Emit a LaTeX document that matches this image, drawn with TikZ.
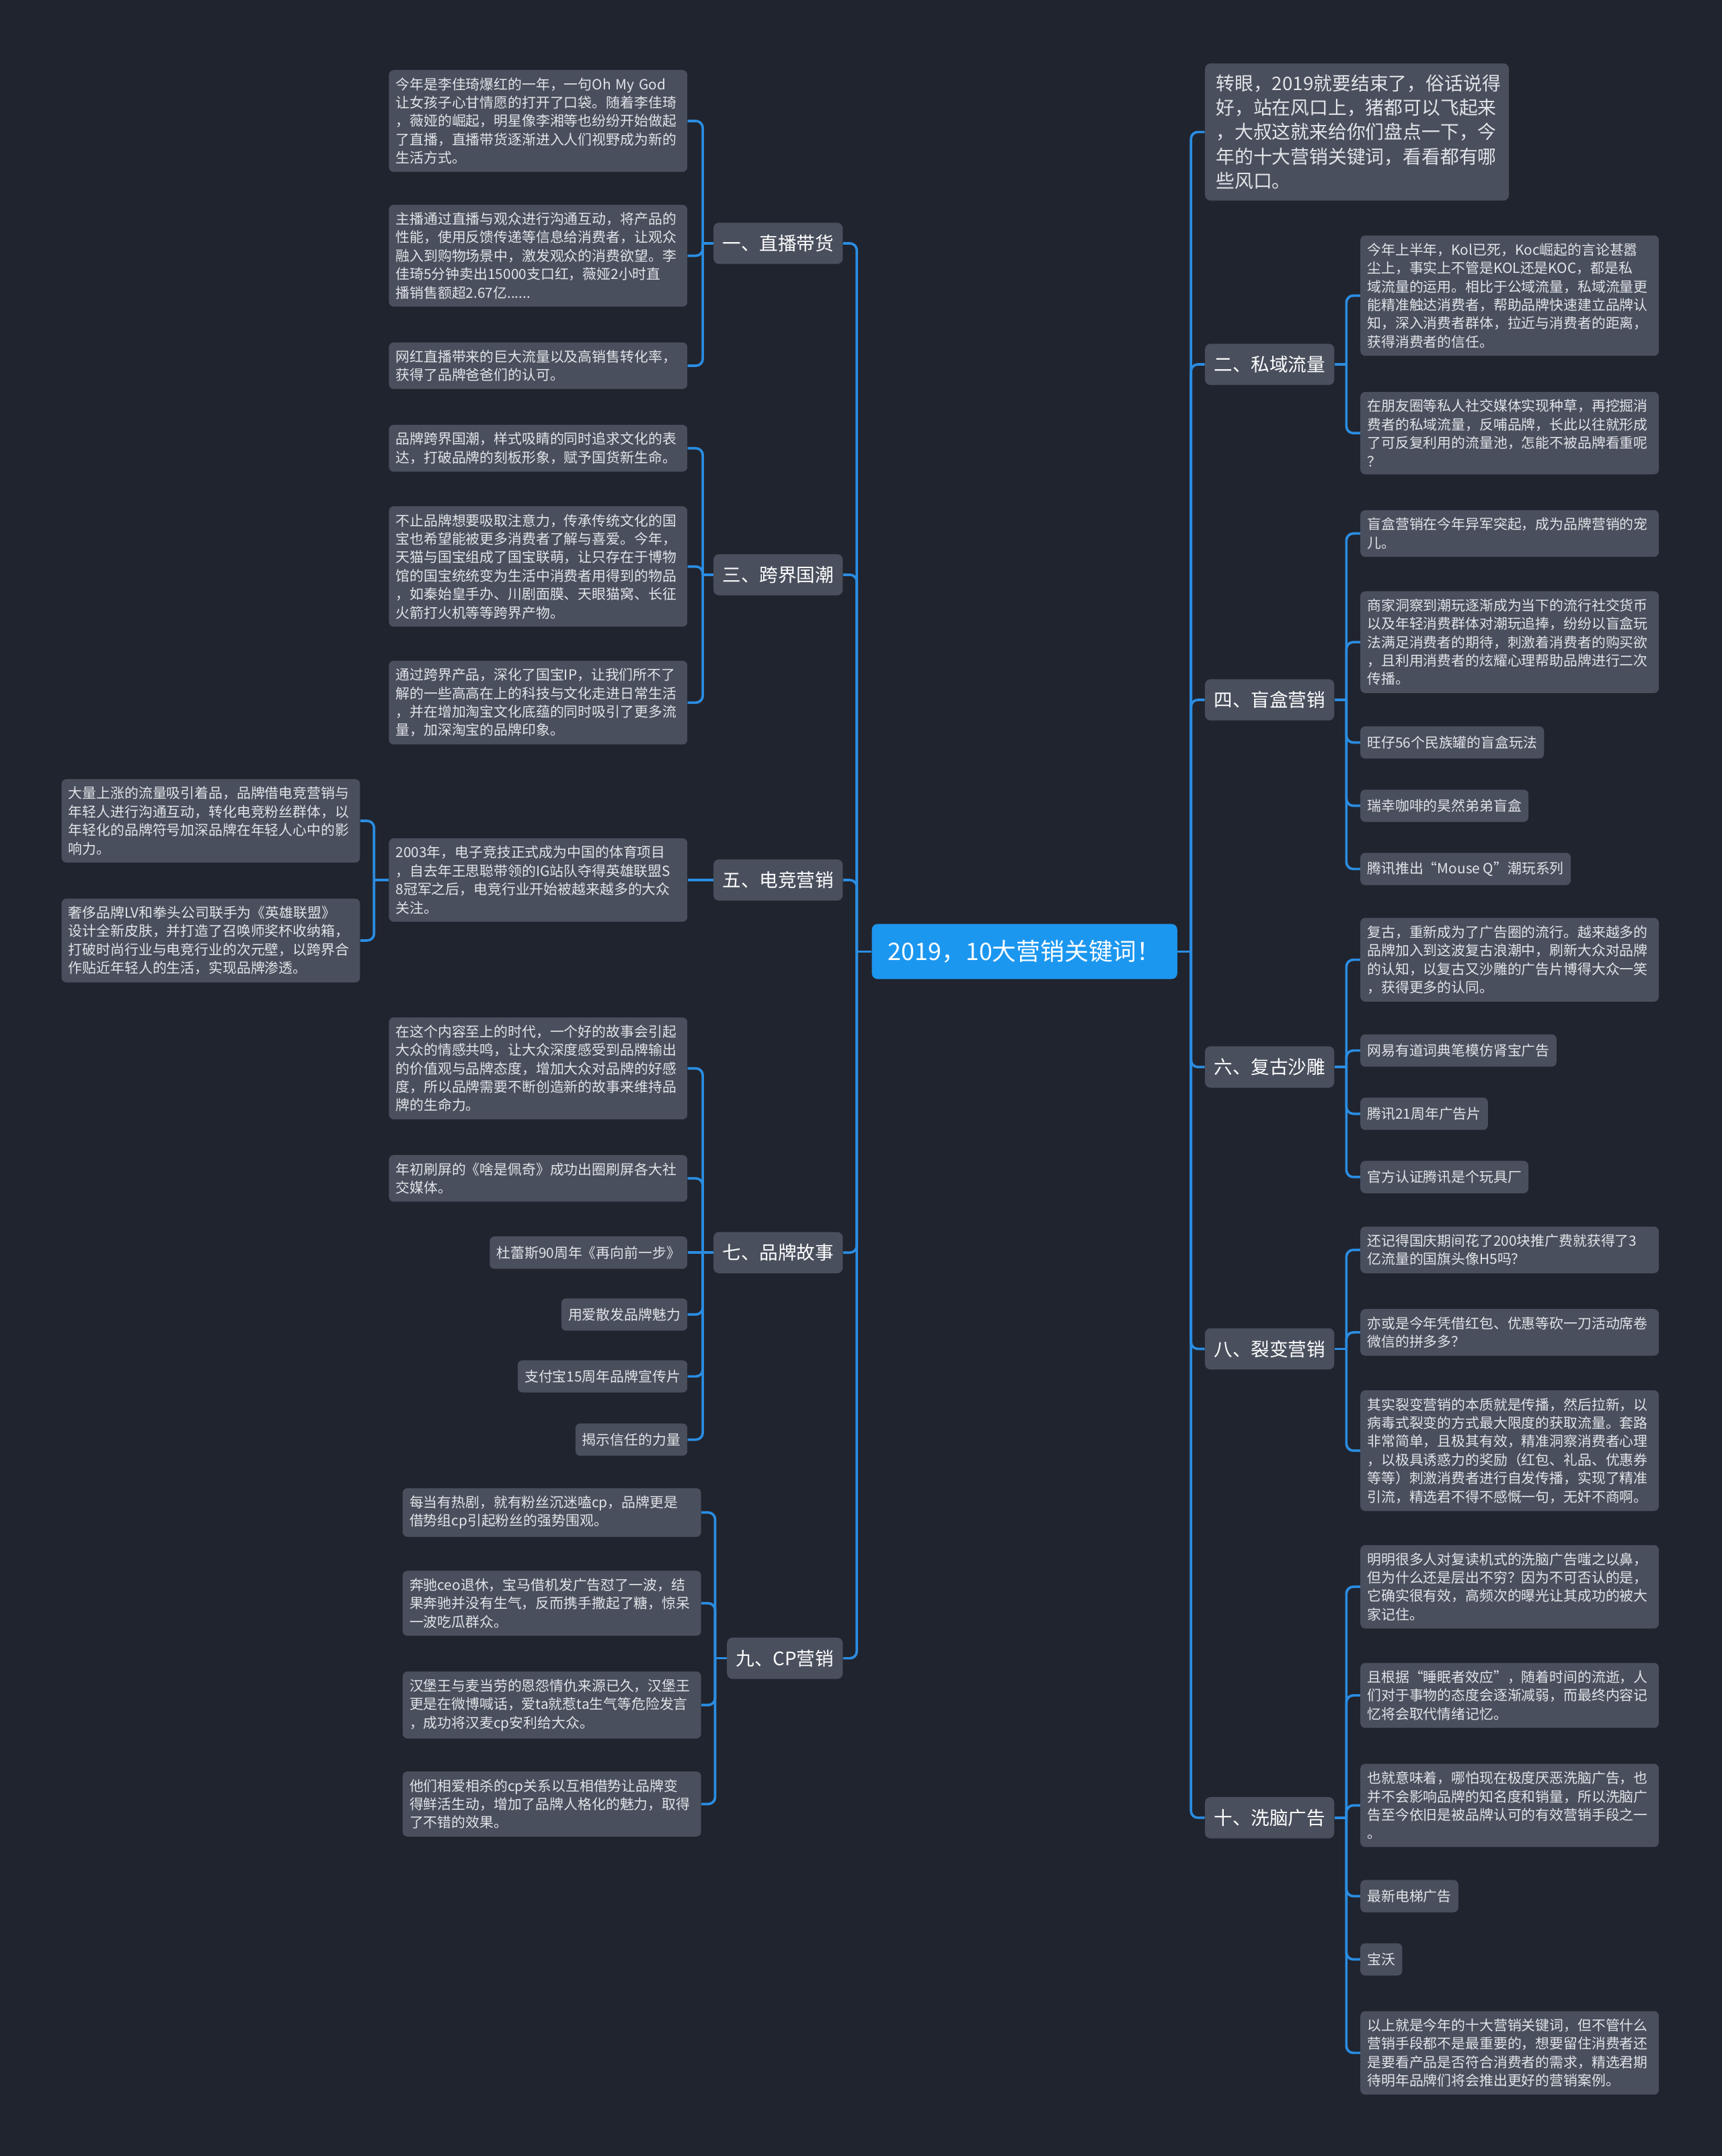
\documentclass[tikz,border=0pt]{standalone}
\usepackage{fontspec}
\setmainfont{Noto Sans CJK SC}
\definecolor{bgc}{RGB}{32,36,47}
\definecolor{boxc}{RGB}{73,79,93}
\definecolor{linec}{RGB}{43,141,226}
\definecolor{rootc}{RGB}{28,151,240}
\definecolor{txtc}{RGB}{226,228,232}
\tikzset{
  conn/.style={draw=linec, line width=1.8pt, rounded corners=5pt},
  det/.style={fill=boxc, rounded corners=3.5pt, text=txtc, font=\fontsize{10.2}{13.4}\selectfont, inner xsep=5pt, inner ysep=5.5pt, minimum height=23.5pt, align=left},
  detw/.style={det, text width=207pt},
  topic/.style={fill=boxc, rounded corners=4pt, text=white, font=\fontsize{13.5}{16}\selectfont, inner xsep=6.5pt, inner ysep=4pt, minimum height=30pt},
  rootn/.style={fill=rootc, rounded corners=4pt, text=white, font=\fontsize{17.5}{20}\selectfont, minimum width=222pt, minimum height=40pt},
  intro/.style={fill=boxc, rounded corners=4pt, text=txtc, font=\fontsize{13.6}{17.8}\selectfont, inner xsep=8pt, inner ysep=8pt, text width=205pt, align=left}
}
\begin{document}
\begin{tikzpicture}[x=1pt,y=-1pt]
\fill[bgc] (0,0) rectangle (1252,1568);
\useasboundingbox (0,0) rectangle (1252,1568);
% bus coordinates
\coordinate (bL) at (623,0);
\coordinate (bR) at (866,0);
\coordinate (bl1) at (511,0);
\coordinate (bl5) at (272,0);
\coordinate (bl9) at (520,0);
\coordinate (br) at (979,0);
% root
\node[rootn] (root) at (745,692) {2019，10大营销关键词！};
% left topics
\node[topic, anchor=east] (t1) at (613,177) {一、直播带货};
\node[topic, anchor=east] (t3) at (613,418) {三、跨界国潮};
\node[topic, anchor=east] (t5) at (613,640) {五、电竞营销};
\node[topic, anchor=east] (t7) at (613,911) {七、品牌故事};
\node[topic, anchor=east] (t9) at (613,1206) {九、CP营销};
% right topics
\node[intro, anchor=west] (ti) at (876,96) {转眼，2019就要结束了，俗话说得\\好，站在风口上，猪都可以飞起来\\，大叔这就来给你们盘点一下，今\\年的十大营销关键词，看看都有哪\\些风口。};
\node[topic, anchor=west] (t2) at (876,265) {二、私域流量};
\node[topic, anchor=west] (t4) at (876,509) {四、盲盒营销};
\node[topic, anchor=west] (t6) at (876,776) {六、复古沙雕};
\node[topic, anchor=west] (t8) at (876,981) {八、裂变营销};
\node[topic, anchor=west] (t10) at (876,1322) {十、洗脑广告};
% group 1
\node[detw, anchor=east] (a1) at (500,88) {今年是李佳琦爆红的一年，一句Oh My God\\让女孩子心甘情愿的打开了口袋。随着李佳琦\\，薇娅的崛起，明星像李湘等也纷纷开始做起\\了直播，直播带货逐渐进入人们视野成为新的\\生活方式。};
\node[detw, anchor=east] (a2) at (500,186) {主播通过直播与观众进行沟通互动，将产品的\\性能，使用反馈传递等信息给消费者，让观众\\融入到购物场景中，激发观众的消费欲望。李\\佳琦5分钟卖出15000支口红，薇娅2小时直\\播销售额超2.67亿......};
\node[detw, anchor=east] (a3) at (500,266) {网红直播带来的巨大流量以及高销售转化率，\\获得了品牌爸爸们的认可。};
% group 3
\node[detw, anchor=east] (c1) at (500,326) {品牌跨界国潮，样式吸睛的同时追求文化的表\\达，打破品牌的刻板形象，赋予国货新生命。};
\node[detw, anchor=east] (c2) at (500,412) {不止品牌想要吸取注意力，传承传统文化的国\\宝也希望能被更多消费者了解与喜爱。今年，\\天猫与国宝组成了国宝联萌，让只存在于博物\\馆的国宝统统变为生活中消费者用得到的物品\\，如秦始皇手办、川剧面膜、天眼猫窝、长征\\火箭打火机等等跨界产物。};
\node[detw, anchor=east] (c3) at (500,511) {通过跨界产品，深化了国宝IP，让我们所不了\\解的一些高高在上的科技与文化走进日常生活\\，并在增加淘宝文化底蕴的同时吸引了更多流\\量，加深淘宝的品牌印象。};
% group 5
\node[detw, anchor=east] (e1) at (500,640) {2003年，电子竞技正式成为中国的体育项目\\，自去年王思聪带领的IG站队夺得英雄联盟S\\8冠军之后，电竞行业开始被越来越多的大众\\关注。};
\node[detw, anchor=east] (e11) at (262,597) {大量上涨的流量吸引着品，品牌借电竞营销与\\年轻人进行沟通互动，转化电竞粉丝群体，以\\年轻化的品牌符号加深品牌在年轻人心中的影\\响力。};
\node[detw, anchor=east] (e12) at (262,684) {奢侈品牌LV和拳头公司联手为《英雄联盟》\\设计全新皮肤，并打造了召唤师奖杯收纳箱，\\打破时尚行业与电竞行业的次元壁，以跨界合\\作贴近年轻人的生活，实现品牌渗透。};
% group 7
\node[detw, anchor=east] (g1) at (500,777) {在这个内容至上的时代，一个好的故事会引起\\大众的情感共鸣，让大众深度感受到品牌输出\\的价值观与品牌态度，增加大众对品牌的好感\\度，所以品牌需要不断创造新的故事来维持品\\牌的生命力。};
\node[detw, anchor=east] (g2) at (500,857) {年初刷屏的《啥是佩奇》成功出圈刷屏各大社\\交媒体。};
\node[det, anchor=east] (g3) at (500,911) {杜蕾斯90周年《再向前一步》};
\node[det, anchor=east] (g4) at (500,956) {用爱散发品牌魅力};
\node[det, anchor=east] (g5) at (500,1001) {支付宝15周年品牌宣传片};
\node[det, anchor=east] (g6) at (500,1047) {揭示信任的力量};
% group 9
\node[detw, anchor=east] (i1) at (510,1100) {每当有热剧，就有粉丝沉迷嗑cp，品牌更是\\借势组cp引起粉丝的强势围观。};
\node[detw, anchor=east] (i2) at (510,1166) {奔驰ceo退休，宝马借机发广告怼了一波，结\\果奔驰并没有生气，反而携手撒起了糖，惊呆\\一波吃瓜群众。};
\node[detw, anchor=east] (i3) at (510,1240) {汉堡王与麦当劳的恩怨情仇来源已久，汉堡王\\更是在微博喊话，爱ta就惹ta生气等危险发言\\，成功将汉麦cp安利给大众。};
\node[detw, anchor=east] (i4) at (510,1312) {他们相爱相杀的cp关系以互相借势让品牌变\\得鲜活生动，增加了品牌人格化的魅力，取得\\了不错的效果。};
% group 2
\node[detw, anchor=west] (b1) at (989,215) {今年上半年，Kol已死，Koc崛起的言论甚嚣\\尘上，事实上不管是KOL还是KOC，都是私\\域流量的运用。相比于公域流量，私域流量更\\能精准触达消费者，帮助品牌快速建立品牌认\\知，深入消费者群体，拉近与消费者的距离，\\获得消费者的信任。};
\node[detw, anchor=west] (b2) at (989,315) {在朋友圈等私人社交媒体实现种草，再挖掘消\\费者的私域流量，反哺品牌，长此以往就形成\\了可反复利用的流量池，怎能不被品牌看重呢\\？};
% group 4
\node[detw, anchor=west] (d1) at (989,388) {盲盒营销在今年异军突起，成为品牌营销的宠\\儿。};
\node[detw, anchor=west] (d2) at (989,467) {商家洞察到潮玩逐渐成为当下的流行社交货币\\以及年轻消费群体对潮玩追捧，纷纷以盲盒玩\\法满足消费者的期待，刺激着消费者的购买欲\\，且利用消费者的炫耀心理帮助品牌进行二次\\传播。};
\node[det, anchor=west] (d3) at (989,540) {旺仔56个民族罐的盲盒玩法};
\node[det, anchor=west] (d4) at (989,586) {瑞幸咖啡的昊然弟弟盲盒};
\node[det, anchor=west] (d5) at (989,632) {腾讯推出“Mouse Q”潮玩系列};
% group 6
\node[detw, anchor=west] (f1) at (989,698) {复古，重新成为了广告圈的流行。越来越多的\\品牌加入到这波复古浪潮中，刷新大众对品牌\\的认知，以复古又沙雕的广告片博得大众一笑\\，获得更多的认同。};
\node[det, anchor=west] (f2) at (989,764) {网易有道词典笔模仿肾宝广告};
\node[det, anchor=west] (f3) at (989,810) {腾讯21周年广告片};
\node[det, anchor=west] (f4) at (989,856) {官方认证腾讯是个玩具厂};
% group 8
\node[detw, anchor=west] (h1) at (989,909) {还记得国庆期间花了200块推广费就获得了3\\亿流量的国旗头像H5吗？};
\node[detw, anchor=west] (h2) at (989,969) {亦或是今年凭借红包、优惠等砍一刀活动席卷\\微信的拼多多？};
\node[detw, anchor=west] (h3) at (989,1055) {其实裂变营销的本质就是传播，然后拉新，以\\病毒式裂变的方式最大限度的获取流量。套路\\非常简单，且极其有效，精准洞察消费者心理\\，以极具诱惑力的奖励（红包、礼品、优惠券\\等等）刺激消费者进行自发传播，实现了精准\\引流，精选君不得不感慨一句，无奸不商啊。};
% group 10
\node[detw, anchor=west] (j1) at (989,1154) {明明很多人对复读机式的洗脑广告嗤之以鼻，\\但为什么还是层出不穷？因为不可否认的是，\\它确实很有效，高频次的曝光让其成功的被大\\家记住。};
\node[detw, anchor=west] (j2) at (989,1233) {且根据“睡眠者效应”，随着时间的流逝，人\\们对于事物的态度会逐渐减弱，而最终内容记\\忆将会取代情绪记忆。};
\node[detw, anchor=west] (j3) at (989,1313) {也就意味着，哪怕现在极度厌恶洗脑广告，也\\并不会影响品牌的知名度和销量，所以洗脑广\\告至今依旧是被品牌认可的有效营销手段之一\\。};
\node[det, anchor=west] (j4) at (989,1379) {最新电梯广告};
\node[det, anchor=west] (j5) at (989,1425) {宝沃};
\node[detw, anchor=west] (j6) at (989,1493) {以上就是今年的十大营销关键词，但不管什么\\营销手段都不是最重要的，想要留住消费者还\\是要看产品是否符合消费者的需求，精选君期\\待明年品牌们将会推出更好的营销案例。};
% ---- connectors: root
\draw[conn] (root.west) -- (root.west -| bL);
\foreach \n in {t1,t3,t5,t7,t9} \draw[conn] (root.west -| bL) |- (\n.east);
\draw[conn] (root.east) -- (root.east -| bR);
\foreach \n in {ti,t2,t4,t6,t8,t10} \draw[conn] (root.east -| bR) |- (\n.west);
% left groups
\draw[conn] (t1.west) -- (t1.west -| bl1);
\foreach \n in {a1,a2,a3} \draw[conn] (t1.west -| bl1) |- (\n.east);
\draw[conn] (t3.west) -- (t3.west -| bl1);
\foreach \n in {c1,c2,c3} \draw[conn] (t3.west -| bl1) |- (\n.east);
\draw[conn] (t5.west) -- (e1.east);
\draw[conn] (e1.west) -- (e1.west -| bl5);
\foreach \n in {e11,e12} \draw[conn] (e1.west -| bl5) |- (\n.east);
\draw[conn] (t7.west) -- (g3.east);
\foreach \n in {g1,g2,g4,g5,g6} \draw[conn] (t7.west -| bl1) |- (\n.east);
\draw[conn] (t9.west) -- (t9.west -| bl9);
\foreach \n in {i1,i2,i3,i4} \draw[conn] (t9.west -| bl9) |- (\n.east);
% right groups
\draw[conn] (t2.east) -- (t2.east -| br);
\foreach \n in {b1,b2} \draw[conn] (t2.east -| br) |- (\n.west);
\draw[conn] (t4.east) -- (t4.east -| br);
\foreach \n in {d1,d2,d3,d4,d5} \draw[conn] (t4.east -| br) |- (\n.west);
\draw[conn] (t6.east) -- (t6.east -| br);
\foreach \n in {f1,f2,f3,f4} \draw[conn] (t6.east -| br) |- (\n.west);
\draw[conn] (t8.east) -- (t8.east -| br);
\foreach \n in {h1,h2,h3} \draw[conn] (t8.east -| br) |- (\n.west);
\draw[conn] (t10.east) -- (t10.east -| br);
\foreach \n in {j1,j2,j3,j4,j5,j6} \draw[conn] (t10.east -| br) |- (\n.west);
\end{tikzpicture}
\end{document}
